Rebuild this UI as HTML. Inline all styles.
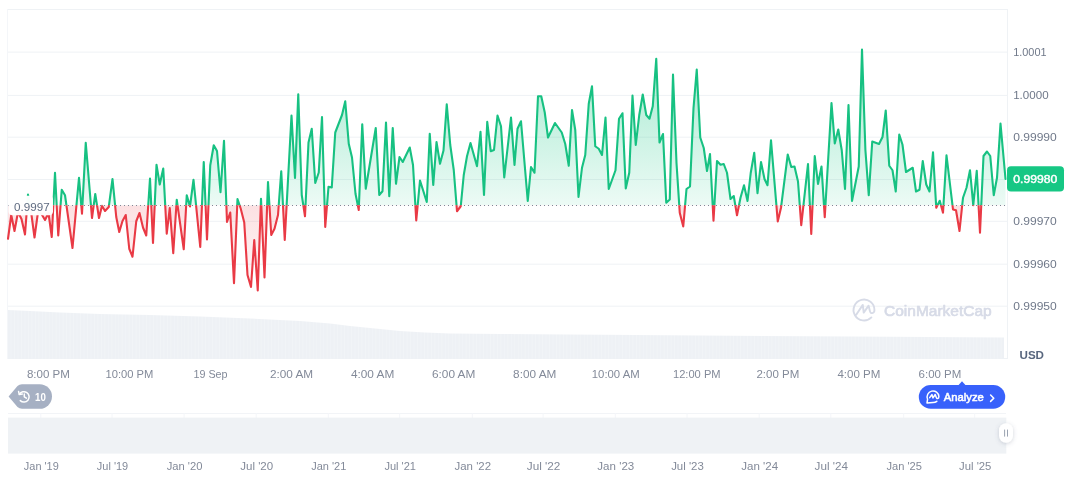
<!DOCTYPE html>
<html lang="en">
<head>
<meta charset="utf-8">
<title>Price chart</title>
<style>
html,body{margin:0;padding:0;background:#fff;}
body{width:1072px;height:477px;overflow:hidden;font-family:"Liberation Sans",sans-serif;}
svg{display:block;}
text{font-family:"Liberation Sans",sans-serif;}
.yl{font-size:11px;fill:#6f7889;}
.xl{font-size:11px;fill:#838a99;}
.nl{font-size:11px;fill:#838a99;}
</style>
</head>
<body>
<svg width="1072" height="477" viewBox="0 0 1072 477">
<defs>
<linearGradient id="gg" gradientUnits="userSpaceOnUse" x1="0" y1="45" x2="0" y2="205.25">
<stop offset="0" stop-color="#16c784" stop-opacity="0.40"/>
<stop offset="1" stop-color="#16c784" stop-opacity="0.08"/>
</linearGradient>
<linearGradient id="rg" gradientUnits="userSpaceOnUse" x1="0" y1="205.25" x2="0" y2="300">
<stop offset="0" stop-color="#ea3943" stop-opacity="0.155"/>
<stop offset="1" stop-color="#ea3943" stop-opacity="0.02"/>
</linearGradient>
<clipPath id="cu"><rect x="0" y="0" width="1072" height="205.25"/></clipPath>
<clipPath id="cd"><rect x="0" y="205.25" width="1072" height="160"/></clipPath>
<pattern id="vp" patternUnits="userSpaceOnUse" x="8" y="0" width="3.474" height="60">
<rect x="0" y="0" width="3.474" height="60" fill="#eef1f5"/>
<rect x="3.0" y="0" width="0.474" height="60" fill="#f5f7fa"/>
</pattern>
<filter id="sh" x="-50%" y="-50%" width="200%" height="200%">
<feDropShadow dx="0" dy="1" stdDeviation="2.2" flood-color="#58667e" flood-opacity="0.28"/>
</filter>
<filter id="lb" x="-20%" y="-30%" width="140%" height="160%"><feGaussianBlur stdDeviation="0.7"/></filter>
</defs>

<g stroke="#eff2f5" stroke-width="1" fill="none">
<line x1="8" y1="9.5" x2="1008" y2="9.5"/>
<line x1="8" y1="52.1" x2="1008" y2="52.1"/>
<line x1="8" y1="95.4" x2="1008" y2="95.4"/>
<line x1="8" y1="137.2" x2="1008" y2="137.2"/>
<line x1="8" y1="179.5" x2="1008" y2="179.5"/>
<line x1="8" y1="221.3" x2="1008" y2="221.3"/>
<line x1="8" y1="264.2" x2="1008" y2="264.2"/>
<line x1="8" y1="306.2" x2="1008" y2="306.2"/>
<line x1="1007.5" y1="9" x2="1007.5" y2="359"/>
<line x1="7.5" y1="9" x2="7.5" y2="359" stroke="#f4f6f9"/>
<line x1="8" y1="358.5" x2="1008" y2="358.5"/>
</g>
<path d="M8,358.5 L8,310 L30,311 L60,312.5 L100,314 L150,315 L200,316.5 L250,318.5 L300,321 L330,323.5 L350,326 L375,328.5 L400,331 L425,332.5 L450,333.5 L500,334 L536,334.3 L700,335.5 L850,336.5 L1004,337.5 L1004,358.5 Z" fill="url(#vp)"/>
<g id="wm" fill="none" stroke="#d7dbe7" stroke-width="1.9" stroke-linecap="round" stroke-linejoin="round">
<path d="M871.4,317.4 A10.45,10.45 0 1 1 874.45,310.2 C874.3,313.6 870.3,314.2 869.9,311 L868.6,305.6 L863.7,312.6 L862.8,304.9 L856.2,314.8"/>
</g>
<text x="884" y="316" font-size="15.5" fill="#d7dbe7" stroke="#d7dbe7" stroke-width="0.7" stroke-linejoin="round" textLength="107.7" lengthAdjust="spacingAndGlyphs">CoinMarketCap</text>

<path d="M8,205.25 L8,238.75 L11.25,215 L14.5,231 L18,212 L21.5,219 L25,234.5 L28,194.6 L31.5,215 L34.5,237.5 L38,212 L41.5,214 L45,220 L48.5,213 L51.75,237 L55,172.75 L58.25,235.5 L61.75,189.75 L65,195.25 L72.5,248 L79,177.75 L82,213.6 L85.75,142.75 L92,218 L95.25,194 L99,218 L102,205.75 L105,211 L108.75,207 L112.5,179 L116.25,217 L119.25,232 L122.5,221 L125.75,215 L129.25,248.75 L132.5,256.75 L136.25,221.25 L139.5,213 L143,227.5 L146.25,235.5 L150,178.5 L153,243 L156.5,164.75 L159.75,184.5 L163.25,168.5 L166.75,233.75 L169.75,208 L173.25,253.25 L176.75,199.75 L183.75,249.25 L186.75,195.25 L190,206.5 L193.5,179.75 L200.25,247 L203.75,162 L207,239.5 L210.25,165.25 L213.75,145.25 L217,151 L220.5,192.25 L224,140.75 L227,222 L230.25,212.5 L234,283.25 L237.5,199 L240.75,208.75 L244.25,222.5 L247.5,275 L251,287 L254.25,240 L257.75,290.5 L261,198.75 L264.5,277.5 L268,182 L271.25,235 L274.5,228.75 L278,215 L281.25,171.25 L284.75,240 L291.5,115.5 L295,178 L298.25,94.25 L301.75,195 L305,216.25 L308.5,142.5 L311.75,128.75 L315.25,183 L318.75,172.5 L322,117 L325.25,227 L328.5,186.75 L331.75,187.5 L335.25,132.5 L342,115 L345.25,101.25 L348.75,143.75 L352,157.5 L355.5,193.75 L358.75,210 L362.25,124.25 L365.75,188.75 L375.75,128 L379.25,195 L382.5,191.25 L386,122.5 L389.25,196.25 L392.75,128 L396,183.75 L399.5,157 L402.75,162 L409.75,147.5 L413,165 L416.25,220.5 L420,180.5 L426.75,202 L429.75,133.75 L433.25,185 L436.5,142 L440,163.75 L443.5,150.5 L446.75,104.25 L450.25,145 L453.75,170 L457,211.25 L460.75,206.25 L463.75,175 L467,156.25 L470.5,143 L477,166.25 L480.5,131.75 L484,195 L487.25,121.75 L490.75,151.25 L494,150 L497.5,115.5 L501,126.25 L504.25,177.5 L511,117.5 L514.5,165 L517.5,128.75 L521,121.25 L527.75,201 L531,167 L534.5,172.75 L538,96.25 L541.25,96.25 L544.75,112.5 L548,137.5 L555,123 L561.75,132.5 L565.25,144 L568.75,165.75 L572,110 L575.25,130 L578.5,197 L582,167.75 L585.25,155 L588.75,103.75 L592,86.25 L595.25,146.25 L598.75,148.75 L602,155 L605.5,117.5 L608.75,189 L615.5,170.25 L619,118.75 L622.5,113.25 L625.75,188.5 L629.25,172.75 L632.5,95.5 L635.75,145 L639.25,115 L642.75,94.5 L646.25,115 L649.5,118.75 L652.75,106.25 L656.25,58.75 L659.5,142.5 L663,134 L666.25,202.75 L669.75,199.5 L673,74.5 L676.5,163 L679.75,212.75 L683.25,226.5 L686.5,189 L690,186.5 L693.5,108 L696.75,69.5 L700.25,137.5 L703.75,148 L707,171 L710,154 L713.5,220.75 L717,161 L720.5,164.75 L723.75,164 L727,172.75 L730.5,199 L733.75,196 L737,215.25 L740.5,197.75 L744,185.25 L747.5,201 L750.75,172.75 L754.25,152.75 L757.5,193.25 L761,162 L764.5,179 L767.5,185.25 L771,140.25 L777.75,221.5 L781,207.75 L787.75,154.5 L791.25,167 L794.5,166.5 L798,181.5 L801.25,225.25 L808,164 L811.25,234 L814.75,156 L818,184 L821.5,166.5 L824.75,217.25 L831.5,103 L834.75,143.5 L838.25,129.5 L841.75,150.25 L845,189 L848.5,105 L852,201 L858.75,166.5 L862,49.5 L865.4,150 L868.75,195.25 L872.25,141.5 L879,144 L882.5,137 L885.75,110.5 L889.25,165.75 L892.5,170.25 L895.75,191.5 L899.25,134.5 L902.5,144.75 L906,172 L912.75,167.75 L916,191.5 L919.5,189.75 L922.75,161 L926.25,184.5 L929.5,191.5 L933,152.25 L936.25,207.75 L939.75,200.75 L943,212.75 L946.5,155.25 L953,209.5 L956,210.25 L959.5,231 L963,197.75 L966.5,187.75 L970,170.25 L973.25,205.25 L976.75,170.75 L980,232.75 L983.5,156 L987,151.5 L990.25,156 L993.75,195.25 L997,177.75 L1000.5,123.5 L1005.5,179 L1005.5,205.25 Z" fill="url(#gg)" clip-path="url(#cu)"/>
<path d="M8,205.25 L8,238.75 L11.25,215 L14.5,231 L18,212 L21.5,219 L25,234.5 L28,194.6 L31.5,215 L34.5,237.5 L38,212 L41.5,214 L45,220 L48.5,213 L51.75,237 L55,172.75 L58.25,235.5 L61.75,189.75 L65,195.25 L72.5,248 L79,177.75 L82,213.6 L85.75,142.75 L92,218 L95.25,194 L99,218 L102,205.75 L105,211 L108.75,207 L112.5,179 L116.25,217 L119.25,232 L122.5,221 L125.75,215 L129.25,248.75 L132.5,256.75 L136.25,221.25 L139.5,213 L143,227.5 L146.25,235.5 L150,178.5 L153,243 L156.5,164.75 L159.75,184.5 L163.25,168.5 L166.75,233.75 L169.75,208 L173.25,253.25 L176.75,199.75 L183.75,249.25 L186.75,195.25 L190,206.5 L193.5,179.75 L200.25,247 L203.75,162 L207,239.5 L210.25,165.25 L213.75,145.25 L217,151 L220.5,192.25 L224,140.75 L227,222 L230.25,212.5 L234,283.25 L237.5,199 L240.75,208.75 L244.25,222.5 L247.5,275 L251,287 L254.25,240 L257.75,290.5 L261,198.75 L264.5,277.5 L268,182 L271.25,235 L274.5,228.75 L278,215 L281.25,171.25 L284.75,240 L291.5,115.5 L295,178 L298.25,94.25 L301.75,195 L305,216.25 L308.5,142.5 L311.75,128.75 L315.25,183 L318.75,172.5 L322,117 L325.25,227 L328.5,186.75 L331.75,187.5 L335.25,132.5 L342,115 L345.25,101.25 L348.75,143.75 L352,157.5 L355.5,193.75 L358.75,210 L362.25,124.25 L365.75,188.75 L375.75,128 L379.25,195 L382.5,191.25 L386,122.5 L389.25,196.25 L392.75,128 L396,183.75 L399.5,157 L402.75,162 L409.75,147.5 L413,165 L416.25,220.5 L420,180.5 L426.75,202 L429.75,133.75 L433.25,185 L436.5,142 L440,163.75 L443.5,150.5 L446.75,104.25 L450.25,145 L453.75,170 L457,211.25 L460.75,206.25 L463.75,175 L467,156.25 L470.5,143 L477,166.25 L480.5,131.75 L484,195 L487.25,121.75 L490.75,151.25 L494,150 L497.5,115.5 L501,126.25 L504.25,177.5 L511,117.5 L514.5,165 L517.5,128.75 L521,121.25 L527.75,201 L531,167 L534.5,172.75 L538,96.25 L541.25,96.25 L544.75,112.5 L548,137.5 L555,123 L561.75,132.5 L565.25,144 L568.75,165.75 L572,110 L575.25,130 L578.5,197 L582,167.75 L585.25,155 L588.75,103.75 L592,86.25 L595.25,146.25 L598.75,148.75 L602,155 L605.5,117.5 L608.75,189 L615.5,170.25 L619,118.75 L622.5,113.25 L625.75,188.5 L629.25,172.75 L632.5,95.5 L635.75,145 L639.25,115 L642.75,94.5 L646.25,115 L649.5,118.75 L652.75,106.25 L656.25,58.75 L659.5,142.5 L663,134 L666.25,202.75 L669.75,199.5 L673,74.5 L676.5,163 L679.75,212.75 L683.25,226.5 L686.5,189 L690,186.5 L693.5,108 L696.75,69.5 L700.25,137.5 L703.75,148 L707,171 L710,154 L713.5,220.75 L717,161 L720.5,164.75 L723.75,164 L727,172.75 L730.5,199 L733.75,196 L737,215.25 L740.5,197.75 L744,185.25 L747.5,201 L750.75,172.75 L754.25,152.75 L757.5,193.25 L761,162 L764.5,179 L767.5,185.25 L771,140.25 L777.75,221.5 L781,207.75 L787.75,154.5 L791.25,167 L794.5,166.5 L798,181.5 L801.25,225.25 L808,164 L811.25,234 L814.75,156 L818,184 L821.5,166.5 L824.75,217.25 L831.5,103 L834.75,143.5 L838.25,129.5 L841.75,150.25 L845,189 L848.5,105 L852,201 L858.75,166.5 L862,49.5 L865.4,150 L868.75,195.25 L872.25,141.5 L879,144 L882.5,137 L885.75,110.5 L889.25,165.75 L892.5,170.25 L895.75,191.5 L899.25,134.5 L902.5,144.75 L906,172 L912.75,167.75 L916,191.5 L919.5,189.75 L922.75,161 L926.25,184.5 L929.5,191.5 L933,152.25 L936.25,207.75 L939.75,200.75 L943,212.75 L946.5,155.25 L953,209.5 L956,210.25 L959.5,231 L963,197.75 L966.5,187.75 L970,170.25 L973.25,205.25 L976.75,170.75 L980,232.75 L983.5,156 L987,151.5 L990.25,156 L993.75,195.25 L997,177.75 L1000.5,123.5 L1005.5,179 L1005.5,205.25 Z" fill="url(#rg)" clip-path="url(#cd)"/>
<line x1="8" y1="205.5" x2="1005" y2="205.5" stroke="#808796" stroke-width="1" stroke-dasharray="1 3"/>
<polyline points="8,238.75 11.25,215 14.5,231 18,212 21.5,219 25,234.5 28,194.6 31.5,215 34.5,237.5 38,212 41.5,214 45,220 48.5,213 51.75,237 55,172.75 58.25,235.5 61.75,189.75 65,195.25 72.5,248 79,177.75 82,213.6 85.75,142.75 92,218 95.25,194 99,218 102,205.75 105,211 108.75,207 112.5,179 116.25,217 119.25,232 122.5,221 125.75,215 129.25,248.75 132.5,256.75 136.25,221.25 139.5,213 143,227.5 146.25,235.5 150,178.5 153,243 156.5,164.75 159.75,184.5 163.25,168.5 166.75,233.75 169.75,208 173.25,253.25 176.75,199.75 183.75,249.25 186.75,195.25 190,206.5 193.5,179.75 200.25,247 203.75,162 207,239.5 210.25,165.25 213.75,145.25 217,151 220.5,192.25 224,140.75 227,222 230.25,212.5 234,283.25 237.5,199 240.75,208.75 244.25,222.5 247.5,275 251,287 254.25,240 257.75,290.5 261,198.75 264.5,277.5 268,182 271.25,235 274.5,228.75 278,215 281.25,171.25 284.75,240 291.5,115.5 295,178 298.25,94.25 301.75,195 305,216.25 308.5,142.5 311.75,128.75 315.25,183 318.75,172.5 322,117 325.25,227 328.5,186.75 331.75,187.5 335.25,132.5 342,115 345.25,101.25 348.75,143.75 352,157.5 355.5,193.75 358.75,210 362.25,124.25 365.75,188.75 375.75,128 379.25,195 382.5,191.25 386,122.5 389.25,196.25 392.75,128 396,183.75 399.5,157 402.75,162 409.75,147.5 413,165 416.25,220.5 420,180.5 426.75,202 429.75,133.75 433.25,185 436.5,142 440,163.75 443.5,150.5 446.75,104.25 450.25,145 453.75,170 457,211.25 460.75,206.25 463.75,175 467,156.25 470.5,143 477,166.25 480.5,131.75 484,195 487.25,121.75 490.75,151.25 494,150 497.5,115.5 501,126.25 504.25,177.5 511,117.5 514.5,165 517.5,128.75 521,121.25 527.75,201 531,167 534.5,172.75 538,96.25 541.25,96.25 544.75,112.5 548,137.5 555,123 561.75,132.5 565.25,144 568.75,165.75 572,110 575.25,130 578.5,197 582,167.75 585.25,155 588.75,103.75 592,86.25 595.25,146.25 598.75,148.75 602,155 605.5,117.5 608.75,189 615.5,170.25 619,118.75 622.5,113.25 625.75,188.5 629.25,172.75 632.5,95.5 635.75,145 639.25,115 642.75,94.5 646.25,115 649.5,118.75 652.75,106.25 656.25,58.75 659.5,142.5 663,134 666.25,202.75 669.75,199.5 673,74.5 676.5,163 679.75,212.75 683.25,226.5 686.5,189 690,186.5 693.5,108 696.75,69.5 700.25,137.5 703.75,148 707,171 710,154 713.5,220.75 717,161 720.5,164.75 723.75,164 727,172.75 730.5,199 733.75,196 737,215.25 740.5,197.75 744,185.25 747.5,201 750.75,172.75 754.25,152.75 757.5,193.25 761,162 764.5,179 767.5,185.25 771,140.25 777.75,221.5 781,207.75 787.75,154.5 791.25,167 794.5,166.5 798,181.5 801.25,225.25 808,164 811.25,234 814.75,156 818,184 821.5,166.5 824.75,217.25 831.5,103 834.75,143.5 838.25,129.5 841.75,150.25 845,189 848.5,105 852,201 858.75,166.5 862,49.5 865.4,150 868.75,195.25 872.25,141.5 879,144 882.5,137 885.75,110.5 889.25,165.75 892.5,170.25 895.75,191.5 899.25,134.5 902.5,144.75 906,172 912.75,167.75 916,191.5 919.5,189.75 922.75,161 926.25,184.5 929.5,191.5 933,152.25 936.25,207.75 939.75,200.75 943,212.75 946.5,155.25 953,209.5 956,210.25 959.5,231 963,197.75 966.5,187.75 970,170.25 973.25,205.25 976.75,170.75 980,232.75 983.5,156 987,151.5 990.25,156 993.75,195.25 997,177.75 1000.5,123.5 1005.5,179" fill="none" stroke="#17c182" stroke-width="2.1" stroke-linejoin="round" stroke-linecap="round" clip-path="url(#cu)"/>
<polyline points="8,238.75 11.25,215 14.5,231 18,212 21.5,219 25,234.5 28,194.6 31.5,215 34.5,237.5 38,212 41.5,214 45,220 48.5,213 51.75,237 55,172.75 58.25,235.5 61.75,189.75 65,195.25 72.5,248 79,177.75 82,213.6 85.75,142.75 92,218 95.25,194 99,218 102,205.75 105,211 108.75,207 112.5,179 116.25,217 119.25,232 122.5,221 125.75,215 129.25,248.75 132.5,256.75 136.25,221.25 139.5,213 143,227.5 146.25,235.5 150,178.5 153,243 156.5,164.75 159.75,184.5 163.25,168.5 166.75,233.75 169.75,208 173.25,253.25 176.75,199.75 183.75,249.25 186.75,195.25 190,206.5 193.5,179.75 200.25,247 203.75,162 207,239.5 210.25,165.25 213.75,145.25 217,151 220.5,192.25 224,140.75 227,222 230.25,212.5 234,283.25 237.5,199 240.75,208.75 244.25,222.5 247.5,275 251,287 254.25,240 257.75,290.5 261,198.75 264.5,277.5 268,182 271.25,235 274.5,228.75 278,215 281.25,171.25 284.75,240 291.5,115.5 295,178 298.25,94.25 301.75,195 305,216.25 308.5,142.5 311.75,128.75 315.25,183 318.75,172.5 322,117 325.25,227 328.5,186.75 331.75,187.5 335.25,132.5 342,115 345.25,101.25 348.75,143.75 352,157.5 355.5,193.75 358.75,210 362.25,124.25 365.75,188.75 375.75,128 379.25,195 382.5,191.25 386,122.5 389.25,196.25 392.75,128 396,183.75 399.5,157 402.75,162 409.75,147.5 413,165 416.25,220.5 420,180.5 426.75,202 429.75,133.75 433.25,185 436.5,142 440,163.75 443.5,150.5 446.75,104.25 450.25,145 453.75,170 457,211.25 460.75,206.25 463.75,175 467,156.25 470.5,143 477,166.25 480.5,131.75 484,195 487.25,121.75 490.75,151.25 494,150 497.5,115.5 501,126.25 504.25,177.5 511,117.5 514.5,165 517.5,128.75 521,121.25 527.75,201 531,167 534.5,172.75 538,96.25 541.25,96.25 544.75,112.5 548,137.5 555,123 561.75,132.5 565.25,144 568.75,165.75 572,110 575.25,130 578.5,197 582,167.75 585.25,155 588.75,103.75 592,86.25 595.25,146.25 598.75,148.75 602,155 605.5,117.5 608.75,189 615.5,170.25 619,118.75 622.5,113.25 625.75,188.5 629.25,172.75 632.5,95.5 635.75,145 639.25,115 642.75,94.5 646.25,115 649.5,118.75 652.75,106.25 656.25,58.75 659.5,142.5 663,134 666.25,202.75 669.75,199.5 673,74.5 676.5,163 679.75,212.75 683.25,226.5 686.5,189 690,186.5 693.5,108 696.75,69.5 700.25,137.5 703.75,148 707,171 710,154 713.5,220.75 717,161 720.5,164.75 723.75,164 727,172.75 730.5,199 733.75,196 737,215.25 740.5,197.75 744,185.25 747.5,201 750.75,172.75 754.25,152.75 757.5,193.25 761,162 764.5,179 767.5,185.25 771,140.25 777.75,221.5 781,207.75 787.75,154.5 791.25,167 794.5,166.5 798,181.5 801.25,225.25 808,164 811.25,234 814.75,156 818,184 821.5,166.5 824.75,217.25 831.5,103 834.75,143.5 838.25,129.5 841.75,150.25 845,189 848.5,105 852,201 858.75,166.5 862,49.5 865.4,150 868.75,195.25 872.25,141.5 879,144 882.5,137 885.75,110.5 889.25,165.75 892.5,170.25 895.75,191.5 899.25,134.5 902.5,144.75 906,172 912.75,167.75 916,191.5 919.5,189.75 922.75,161 926.25,184.5 929.5,191.5 933,152.25 936.25,207.75 939.75,200.75 943,212.75 946.5,155.25 953,209.5 956,210.25 959.5,231 963,197.75 966.5,187.75 970,170.25 973.25,205.25 976.75,170.75 980,232.75 983.5,156 987,151.5 990.25,156 993.75,195.25 997,177.75 1000.5,123.5 1005.5,179" fill="none" stroke="#e93a45" stroke-width="2.1" stroke-linejoin="round" stroke-linecap="round" clip-path="url(#cd)"/>
<rect x="8.5" y="195.8" width="44.5" height="19.4" rx="4" fill="#ffffff" fill-opacity="0.97" filter="url(#lb)"/>
<text x="14.1" y="211" font-size="11" fill="#5f6b80" textLength="35.6" lengthAdjust="spacingAndGlyphs">0.9997</text>
<text class="yl" x="1013.2" y="55.9" textLength="33.4" lengthAdjust="spacingAndGlyphs">1.0001</text>
<text class="yl" x="1013.2" y="99" textLength="35.4" lengthAdjust="spacingAndGlyphs">1.0000</text>
<text class="yl" x="1013.2" y="140.8" textLength="43.6" lengthAdjust="spacingAndGlyphs">0.99990</text>
<text class="yl" x="1013.2" y="225.1" textLength="43.6" lengthAdjust="spacingAndGlyphs">0.99970</text>
<text class="yl" x="1013.2" y="268" textLength="43.6" lengthAdjust="spacingAndGlyphs">0.99960</text>
<text class="yl" x="1013.2" y="310" textLength="43.6" lengthAdjust="spacingAndGlyphs">0.99950</text>
<rect x="1007" y="166.3" width="57" height="25.2" rx="4" fill="#16c784"/>
<text x="1013.3" y="183.1" font-size="11.3" fill="#ffffff" stroke="#ffffff" stroke-width="0.45" textLength="44" lengthAdjust="spacingAndGlyphs">0.99980</text>
<text x="1019.5" y="358.6" font-size="11.5" font-weight="bold" fill="#58667e" textLength="24.5" lengthAdjust="spacingAndGlyphs">USD</text>
<text class="xl" x="26.90" y="378" textLength="43" lengthAdjust="spacingAndGlyphs">8:00 PM</text>
<text class="xl" x="105.50" y="378" textLength="47.9" lengthAdjust="spacingAndGlyphs">10:00 PM</text>
<text class="xl" x="193.40" y="378" textLength="34.2" lengthAdjust="spacingAndGlyphs">19 Sep</text>
<text class="xl" x="269.95" y="378" textLength="43.2" lengthAdjust="spacingAndGlyphs">2:00 AM</text>
<text class="xl" x="350.90" y="378" textLength="43.4" lengthAdjust="spacingAndGlyphs">4:00 AM</text>
<text class="xl" x="431.95" y="378" textLength="43.4" lengthAdjust="spacingAndGlyphs">6:00 AM</text>
<text class="xl" x="513.10" y="378" textLength="43.2" lengthAdjust="spacingAndGlyphs">8:00 AM</text>
<text class="xl" x="591.80" y="378" textLength="47.9" lengthAdjust="spacingAndGlyphs">10:00 AM</text>
<text class="xl" x="672.95" y="378" textLength="47.7" lengthAdjust="spacingAndGlyphs">12:00 PM</text>
<text class="xl" x="756.45" y="378" textLength="42.8" lengthAdjust="spacingAndGlyphs">2:00 PM</text>
<text class="xl" x="837.40" y="378" textLength="43" lengthAdjust="spacingAndGlyphs">4:00 PM</text>
<text class="xl" x="918.55" y="378" textLength="42.8" lengthAdjust="spacingAndGlyphs">6:00 PM</text>
<g id="badge">
<path d="M8.6,396.5 L17.5,386 Q19.3,384.2 22,384.2 L39.7,384.2 A12.3,12.3 0 0 1 39.7,408.8 L22,408.8 Q19.3,408.8 17.5,407 Z" fill="#a6b0c3"/>
<g fill="none" stroke="#ffffff" stroke-width="1.5" stroke-linecap="round" stroke-linejoin="round">
<path d="M19.4,394.3 A5.2,5.2 0 1 1 20.3,400.6"/>
<path d="M18.6,391.6 L19.3,394.6 L22.3,394.1"/>
<path d="M24.3,393.9 L24.3,396.8 L26.4,398.2"/>
</g>
<text x="35" y="400.6" font-size="11" font-weight="bold" fill="#ffffff" textLength="10.8" lengthAdjust="spacingAndGlyphs">10</text>
</g>
<g id="analyze">
<path d="M958.4,385.2 L962,381.3 L965.6,385.2 Z" fill="#3861fb"/>
<rect x="918.8" y="385" width="86.4" height="23.8" rx="11.9" fill="#3861fb"/>
<g fill="none" stroke="#ffffff" stroke-width="1.5" stroke-linecap="round" stroke-linejoin="round">
<path d="M936.8,401.3 A5.9,5.9 0 0 1 933,402.6 L927,402.9 L927.6,399.2 A5.9,5.9 0 1 1 938.9,396.5 C938.9,399 936.6,399.2 936.3,397.4 L935.2,394.5 L933,397.9 L931.9,394.6 L929.7,397.6"/>
<path d="M990.6,395 L993.8,398.2 L990.6,401.4"/>
</g>
<text x="943.7" y="401.1" font-size="11.4" fill="#ffffff" stroke="#ffffff" stroke-width="0.55" stroke-linejoin="round" textLength="40.2" lengthAdjust="spacingAndGlyphs">Analyze</text>
</g>
<line x1="8" y1="413.5" x2="1006" y2="413.5" stroke="#f2f4f7" stroke-width="1"/>
<line x1="40.8" y1="413" x2="40.8" y2="418" stroke="#f4f6f9" stroke-width="1"/>
<line x1="112.0" y1="413" x2="112.0" y2="418" stroke="#f4f6f9" stroke-width="1"/>
<line x1="184.1" y1="413" x2="184.1" y2="418" stroke="#f4f6f9" stroke-width="1"/>
<line x1="256.2" y1="413" x2="256.2" y2="418" stroke="#f4f6f9" stroke-width="1"/>
<line x1="328.3" y1="413" x2="328.3" y2="418" stroke="#f4f6f9" stroke-width="1"/>
<line x1="399.7" y1="413" x2="399.7" y2="418" stroke="#f4f6f9" stroke-width="1"/>
<line x1="472.3" y1="413" x2="472.3" y2="418" stroke="#f4f6f9" stroke-width="1"/>
<line x1="543.1" y1="413" x2="543.1" y2="418" stroke="#f4f6f9" stroke-width="1"/>
<line x1="615.3" y1="413" x2="615.3" y2="418" stroke="#f4f6f9" stroke-width="1"/>
<line x1="687.0" y1="413" x2="687.0" y2="418" stroke="#f4f6f9" stroke-width="1"/>
<line x1="759.2" y1="413" x2="759.2" y2="418" stroke="#f4f6f9" stroke-width="1"/>
<line x1="830.8" y1="413" x2="830.8" y2="418" stroke="#f4f6f9" stroke-width="1"/>
<line x1="903.7" y1="413" x2="903.7" y2="418" stroke="#f4f6f9" stroke-width="1"/>
<line x1="974.7" y1="413" x2="974.7" y2="418" stroke="#f4f6f9" stroke-width="1"/>
<rect x="8" y="417.6" width="998.3" height="36" fill="#eff2f5"/>
<g id="handle">
<rect x="999" y="423.2" width="14" height="19.6" rx="7" fill="#ffffff" filter="url(#sh)"/>
<line x1="1004.6" y1="429.6" x2="1004.6" y2="436.6" stroke="#8f98a8" stroke-width="0.9"/>
<line x1="1007.5" y1="429.6" x2="1007.5" y2="436.6" stroke="#8f98a8" stroke-width="0.9"/>
</g>
<text class="nl" x="23.85" y="470" textLength="34.9" lengthAdjust="spacingAndGlyphs">Jan '19</text>
<text class="nl" x="96.85" y="470" textLength="31.3" lengthAdjust="spacingAndGlyphs">Jul '19</text>
<text class="nl" x="166.70" y="470" textLength="35.8" lengthAdjust="spacingAndGlyphs">Jan '20</text>
<text class="nl" x="240.25" y="470" textLength="32.9" lengthAdjust="spacingAndGlyphs">Jul '20</text>
<text class="nl" x="311.25" y="470" textLength="35.1" lengthAdjust="spacingAndGlyphs">Jan '21</text>
<text class="nl" x="384.40" y="470" textLength="31.6" lengthAdjust="spacingAndGlyphs">Jul '21</text>
<text class="nl" x="454.55" y="470" textLength="36.5" lengthAdjust="spacingAndGlyphs">Jan '22</text>
<text class="nl" x="526.80" y="470" textLength="33.6" lengthAdjust="spacingAndGlyphs">Jul '22</text>
<text class="nl" x="597.35" y="470" textLength="36.9" lengthAdjust="spacingAndGlyphs">Jan '23</text>
<text class="nl" x="671.15" y="470" textLength="32.7" lengthAdjust="spacingAndGlyphs">Jul '23</text>
<text class="nl" x="741.25" y="470" textLength="36.9" lengthAdjust="spacingAndGlyphs">Jan '24</text>
<text class="nl" x="814.60" y="470" textLength="33.4" lengthAdjust="spacingAndGlyphs">Jul '24</text>
<text class="nl" x="886.45" y="470" textLength="35.5" lengthAdjust="spacingAndGlyphs">Jan '25</text>
<text class="nl" x="959.05" y="470" textLength="32.3" lengthAdjust="spacingAndGlyphs">Jul '25</text>
</svg>
</body>
</html>
